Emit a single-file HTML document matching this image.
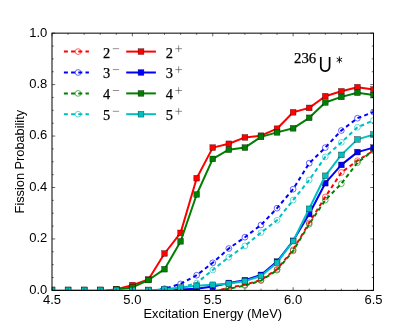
<!DOCTYPE html>
<html><head><meta charset="utf-8"><title>Fission Probability</title>
<style>html,body{margin:0;padding:0;background:#fff;}svg{display:block;will-change:transform;}text{font-family:"Liberation Sans",sans-serif;fill:#000;}.m{font-family:"Liberation Serif",serif;stroke:#000;stroke-width:0.25px;}</style></head><body>
<svg width="415" height="332" viewBox="0 0 415 332">
<rect x="0" y="0" width="415" height="332" fill="#ffffff"/>
<defs><clipPath id="ax"><rect x="52.00" y="33.15" width="321.50" height="257.25"/></clipPath></defs>
<g clip-path="url(#ax)">
<polyline points="52.00,291.60 68.07,291.60 84.15,291.60 100.22,291.60 116.30,291.60 132.38,291.60 148.45,291.60 164.53,291.60 180.60,291.60 196.68,291.60 212.75,291.60 228.82,287.70 244.90,284.80 260.97,280.00 277.05,269.30 293.12,249.80 309.20,222.80 325.28,197.00 341.35,172.50 357.43,160.70 373.50,150.70" fill="none" stroke="#ff0000" stroke-width="2.00" stroke-dasharray="4 3.2" stroke-dashoffset="3.6" stroke-linejoin="round"/>
<circle cx="52.00" cy="291.60" r="2.88" fill="none" stroke="#ff0000" stroke-width="0.60"/>
<circle cx="68.07" cy="291.60" r="2.88" fill="none" stroke="#ff0000" stroke-width="0.60"/>
<circle cx="84.15" cy="291.60" r="2.88" fill="none" stroke="#ff0000" stroke-width="0.60"/>
<circle cx="100.22" cy="291.60" r="2.88" fill="none" stroke="#ff0000" stroke-width="0.60"/>
<circle cx="116.30" cy="291.60" r="2.88" fill="none" stroke="#ff0000" stroke-width="0.60"/>
<circle cx="132.38" cy="291.60" r="2.88" fill="none" stroke="#ff0000" stroke-width="0.60"/>
<circle cx="148.45" cy="291.60" r="2.88" fill="none" stroke="#ff0000" stroke-width="0.60"/>
<circle cx="164.53" cy="291.60" r="2.88" fill="none" stroke="#ff0000" stroke-width="0.60"/>
<circle cx="180.60" cy="291.60" r="2.88" fill="none" stroke="#ff0000" stroke-width="0.60"/>
<circle cx="196.68" cy="291.60" r="2.88" fill="none" stroke="#ff0000" stroke-width="0.60"/>
<circle cx="212.75" cy="291.60" r="2.88" fill="none" stroke="#ff0000" stroke-width="0.60"/>
<circle cx="228.82" cy="287.70" r="2.88" fill="none" stroke="#ff0000" stroke-width="0.60"/>
<circle cx="244.90" cy="284.80" r="2.88" fill="none" stroke="#ff0000" stroke-width="0.60"/>
<circle cx="260.97" cy="280.00" r="2.88" fill="none" stroke="#ff0000" stroke-width="0.60"/>
<circle cx="277.05" cy="269.30" r="2.88" fill="none" stroke="#ff0000" stroke-width="0.60"/>
<circle cx="293.12" cy="249.80" r="2.88" fill="none" stroke="#ff0000" stroke-width="0.60"/>
<circle cx="309.20" cy="222.80" r="2.88" fill="none" stroke="#ff0000" stroke-width="0.60"/>
<circle cx="325.28" cy="197.00" r="2.88" fill="none" stroke="#ff0000" stroke-width="0.60"/>
<circle cx="341.35" cy="172.50" r="2.88" fill="none" stroke="#ff0000" stroke-width="0.60"/>
<circle cx="357.43" cy="160.70" r="2.88" fill="none" stroke="#ff0000" stroke-width="0.60"/>
<circle cx="373.50" cy="150.70" r="2.88" fill="none" stroke="#ff0000" stroke-width="0.60"/>
<polyline points="52.00,291.60 68.07,291.60 84.15,291.60 100.22,291.60 116.30,291.60 132.38,291.60 148.45,291.60 164.53,288.70 180.60,283.90 196.68,275.20 212.75,262.80 228.82,248.50 244.90,237.20 260.97,225.00 277.05,208.20 293.12,189.20 309.20,163.20 325.28,147.60 341.35,130.50 357.43,118.20 373.50,112.00" fill="none" stroke="#0000ff" stroke-width="2.00" stroke-dasharray="4 3.2" stroke-dashoffset="0.0" stroke-linejoin="round"/>
<circle cx="52.00" cy="291.60" r="2.88" fill="none" stroke="#0000ff" stroke-width="0.60"/>
<circle cx="68.07" cy="291.60" r="2.88" fill="none" stroke="#0000ff" stroke-width="0.60"/>
<circle cx="84.15" cy="291.60" r="2.88" fill="none" stroke="#0000ff" stroke-width="0.60"/>
<circle cx="100.22" cy="291.60" r="2.88" fill="none" stroke="#0000ff" stroke-width="0.60"/>
<circle cx="116.30" cy="291.60" r="2.88" fill="none" stroke="#0000ff" stroke-width="0.60"/>
<circle cx="132.38" cy="291.60" r="2.88" fill="none" stroke="#0000ff" stroke-width="0.60"/>
<circle cx="148.45" cy="291.60" r="2.88" fill="none" stroke="#0000ff" stroke-width="0.60"/>
<circle cx="164.53" cy="288.70" r="2.88" fill="none" stroke="#0000ff" stroke-width="0.60"/>
<circle cx="180.60" cy="283.90" r="2.88" fill="none" stroke="#0000ff" stroke-width="0.60"/>
<circle cx="196.68" cy="275.20" r="2.88" fill="none" stroke="#0000ff" stroke-width="0.60"/>
<circle cx="212.75" cy="262.80" r="2.88" fill="none" stroke="#0000ff" stroke-width="0.60"/>
<circle cx="228.82" cy="248.50" r="2.88" fill="none" stroke="#0000ff" stroke-width="0.60"/>
<circle cx="244.90" cy="237.20" r="2.88" fill="none" stroke="#0000ff" stroke-width="0.60"/>
<circle cx="260.97" cy="225.00" r="2.88" fill="none" stroke="#0000ff" stroke-width="0.60"/>
<circle cx="277.05" cy="208.20" r="2.88" fill="none" stroke="#0000ff" stroke-width="0.60"/>
<circle cx="293.12" cy="189.20" r="2.88" fill="none" stroke="#0000ff" stroke-width="0.60"/>
<circle cx="309.20" cy="163.20" r="2.88" fill="none" stroke="#0000ff" stroke-width="0.60"/>
<circle cx="325.28" cy="147.60" r="2.88" fill="none" stroke="#0000ff" stroke-width="0.60"/>
<circle cx="341.35" cy="130.50" r="2.88" fill="none" stroke="#0000ff" stroke-width="0.60"/>
<circle cx="357.43" cy="118.20" r="2.88" fill="none" stroke="#0000ff" stroke-width="0.60"/>
<circle cx="373.50" cy="112.00" r="2.88" fill="none" stroke="#0000ff" stroke-width="0.60"/>
<polyline points="52.00,291.60 68.07,291.60 84.15,291.60 100.22,291.60 116.30,291.60 132.38,291.60 148.45,291.60 164.53,291.60 180.60,291.60 196.68,291.60 212.75,291.60 228.82,288.70 244.90,285.60 260.97,280.60 277.05,270.20 293.12,250.90 309.20,224.20 325.28,200.10 341.35,183.70 357.43,162.70 373.50,150.20" fill="none" stroke="#008000" stroke-width="2.00" stroke-dasharray="4 3.2" stroke-dashoffset="0.0" stroke-linejoin="round"/>
<circle cx="52.00" cy="291.60" r="2.88" fill="none" stroke="#008000" stroke-width="0.60"/>
<circle cx="68.07" cy="291.60" r="2.88" fill="none" stroke="#008000" stroke-width="0.60"/>
<circle cx="84.15" cy="291.60" r="2.88" fill="none" stroke="#008000" stroke-width="0.60"/>
<circle cx="100.22" cy="291.60" r="2.88" fill="none" stroke="#008000" stroke-width="0.60"/>
<circle cx="116.30" cy="291.60" r="2.88" fill="none" stroke="#008000" stroke-width="0.60"/>
<circle cx="132.38" cy="291.60" r="2.88" fill="none" stroke="#008000" stroke-width="0.60"/>
<circle cx="148.45" cy="291.60" r="2.88" fill="none" stroke="#008000" stroke-width="0.60"/>
<circle cx="164.53" cy="291.60" r="2.88" fill="none" stroke="#008000" stroke-width="0.60"/>
<circle cx="180.60" cy="291.60" r="2.88" fill="none" stroke="#008000" stroke-width="0.60"/>
<circle cx="196.68" cy="291.60" r="2.88" fill="none" stroke="#008000" stroke-width="0.60"/>
<circle cx="212.75" cy="291.60" r="2.88" fill="none" stroke="#008000" stroke-width="0.60"/>
<circle cx="228.82" cy="288.70" r="2.88" fill="none" stroke="#008000" stroke-width="0.60"/>
<circle cx="244.90" cy="285.60" r="2.88" fill="none" stroke="#008000" stroke-width="0.60"/>
<circle cx="260.97" cy="280.60" r="2.88" fill="none" stroke="#008000" stroke-width="0.60"/>
<circle cx="277.05" cy="270.20" r="2.88" fill="none" stroke="#008000" stroke-width="0.60"/>
<circle cx="293.12" cy="250.90" r="2.88" fill="none" stroke="#008000" stroke-width="0.60"/>
<circle cx="309.20" cy="224.20" r="2.88" fill="none" stroke="#008000" stroke-width="0.60"/>
<circle cx="325.28" cy="200.10" r="2.88" fill="none" stroke="#008000" stroke-width="0.60"/>
<circle cx="341.35" cy="183.70" r="2.88" fill="none" stroke="#008000" stroke-width="0.60"/>
<circle cx="357.43" cy="162.70" r="2.88" fill="none" stroke="#008000" stroke-width="0.60"/>
<circle cx="373.50" cy="150.20" r="2.88" fill="none" stroke="#008000" stroke-width="0.60"/>
<polyline points="52.00,291.60 68.07,291.60 84.15,291.60 100.22,291.60 116.30,291.60 132.38,291.60 148.45,291.60 164.53,291.60 180.60,287.70 196.68,283.00 212.75,270.00 228.82,257.20 244.90,245.90 260.97,232.60 277.05,220.30 293.12,200.10 309.20,180.00 325.28,156.90 341.35,142.40 357.43,127.30 373.50,120.40" fill="none" stroke="#00bfbf" stroke-width="2.00" stroke-dasharray="4 3.2" stroke-dashoffset="0.0" stroke-linejoin="round"/>
<circle cx="52.00" cy="291.60" r="2.88" fill="none" stroke="#00bfbf" stroke-width="0.60"/>
<circle cx="68.07" cy="291.60" r="2.88" fill="none" stroke="#00bfbf" stroke-width="0.60"/>
<circle cx="84.15" cy="291.60" r="2.88" fill="none" stroke="#00bfbf" stroke-width="0.60"/>
<circle cx="100.22" cy="291.60" r="2.88" fill="none" stroke="#00bfbf" stroke-width="0.60"/>
<circle cx="116.30" cy="291.60" r="2.88" fill="none" stroke="#00bfbf" stroke-width="0.60"/>
<circle cx="132.38" cy="291.60" r="2.88" fill="none" stroke="#00bfbf" stroke-width="0.60"/>
<circle cx="148.45" cy="291.60" r="2.88" fill="none" stroke="#00bfbf" stroke-width="0.60"/>
<circle cx="164.53" cy="291.60" r="2.88" fill="none" stroke="#00bfbf" stroke-width="0.60"/>
<circle cx="180.60" cy="287.70" r="2.88" fill="none" stroke="#00bfbf" stroke-width="0.60"/>
<circle cx="196.68" cy="283.00" r="2.88" fill="none" stroke="#00bfbf" stroke-width="0.60"/>
<circle cx="212.75" cy="270.00" r="2.88" fill="none" stroke="#00bfbf" stroke-width="0.60"/>
<circle cx="228.82" cy="257.20" r="2.88" fill="none" stroke="#00bfbf" stroke-width="0.60"/>
<circle cx="244.90" cy="245.90" r="2.88" fill="none" stroke="#00bfbf" stroke-width="0.60"/>
<circle cx="260.97" cy="232.60" r="2.88" fill="none" stroke="#00bfbf" stroke-width="0.60"/>
<circle cx="277.05" cy="220.30" r="2.88" fill="none" stroke="#00bfbf" stroke-width="0.60"/>
<circle cx="293.12" cy="200.10" r="2.88" fill="none" stroke="#00bfbf" stroke-width="0.60"/>
<circle cx="309.20" cy="180.00" r="2.88" fill="none" stroke="#00bfbf" stroke-width="0.60"/>
<circle cx="325.28" cy="156.90" r="2.88" fill="none" stroke="#00bfbf" stroke-width="0.60"/>
<circle cx="341.35" cy="142.40" r="2.88" fill="none" stroke="#00bfbf" stroke-width="0.60"/>
<circle cx="357.43" cy="127.30" r="2.88" fill="none" stroke="#00bfbf" stroke-width="0.60"/>
<circle cx="373.50" cy="120.40" r="2.88" fill="none" stroke="#00bfbf" stroke-width="0.60"/>
<polyline points="52.00,291.60 68.07,291.60 84.15,291.60 100.22,291.60 116.30,289.20 132.38,285.10 148.45,279.50 164.53,253.50 180.60,232.90 196.68,178.20 212.75,147.60 228.82,143.80 244.90,137.40 260.97,135.70 277.05,128.70 293.12,112.30 309.20,107.90 325.28,96.20 341.35,91.30 357.43,87.20 373.50,89.50" fill="none" stroke="#ff0000" stroke-width="2.00" stroke-linejoin="round"/>
<rect x="49.12" y="287.12" width="5.76" height="5.76" fill="#ff0000" stroke="#000" stroke-opacity="0.7" stroke-width="0.45"/>
<rect x="65.19" y="287.12" width="5.76" height="5.76" fill="#ff0000" stroke="#000" stroke-opacity="0.7" stroke-width="0.45"/>
<rect x="81.27" y="287.12" width="5.76" height="5.76" fill="#ff0000" stroke="#000" stroke-opacity="0.7" stroke-width="0.45"/>
<rect x="97.34" y="287.12" width="5.76" height="5.76" fill="#ff0000" stroke="#000" stroke-opacity="0.7" stroke-width="0.45"/>
<rect x="113.42" y="286.32" width="5.76" height="5.76" fill="#ff0000" stroke="#000" stroke-opacity="0.7" stroke-width="0.45"/>
<rect x="129.50" y="282.22" width="5.76" height="5.76" fill="#ff0000" stroke="#000" stroke-opacity="0.7" stroke-width="0.45"/>
<rect x="145.57" y="276.62" width="5.76" height="5.76" fill="#ff0000" stroke="#000" stroke-opacity="0.7" stroke-width="0.45"/>
<rect x="161.65" y="250.62" width="5.76" height="5.76" fill="#ff0000" stroke="#000" stroke-opacity="0.7" stroke-width="0.45"/>
<rect x="177.72" y="230.02" width="5.76" height="5.76" fill="#ff0000" stroke="#000" stroke-opacity="0.7" stroke-width="0.45"/>
<rect x="193.80" y="175.32" width="5.76" height="5.76" fill="#ff0000" stroke="#000" stroke-opacity="0.7" stroke-width="0.45"/>
<rect x="209.87" y="144.72" width="5.76" height="5.76" fill="#ff0000" stroke="#000" stroke-opacity="0.7" stroke-width="0.45"/>
<rect x="225.94" y="140.92" width="5.76" height="5.76" fill="#ff0000" stroke="#000" stroke-opacity="0.7" stroke-width="0.45"/>
<rect x="242.02" y="134.52" width="5.76" height="5.76" fill="#ff0000" stroke="#000" stroke-opacity="0.7" stroke-width="0.45"/>
<rect x="258.09" y="132.82" width="5.76" height="5.76" fill="#ff0000" stroke="#000" stroke-opacity="0.7" stroke-width="0.45"/>
<rect x="274.17" y="125.82" width="5.76" height="5.76" fill="#ff0000" stroke="#000" stroke-opacity="0.7" stroke-width="0.45"/>
<rect x="290.25" y="109.42" width="5.76" height="5.76" fill="#ff0000" stroke="#000" stroke-opacity="0.7" stroke-width="0.45"/>
<rect x="306.32" y="105.02" width="5.76" height="5.76" fill="#ff0000" stroke="#000" stroke-opacity="0.7" stroke-width="0.45"/>
<rect x="322.40" y="93.32" width="5.76" height="5.76" fill="#ff0000" stroke="#000" stroke-opacity="0.7" stroke-width="0.45"/>
<rect x="338.47" y="88.42" width="5.76" height="5.76" fill="#ff0000" stroke="#000" stroke-opacity="0.7" stroke-width="0.45"/>
<rect x="354.55" y="84.32" width="5.76" height="5.76" fill="#ff0000" stroke="#000" stroke-opacity="0.7" stroke-width="0.45"/>
<rect x="370.62" y="86.62" width="5.76" height="5.76" fill="#ff0000" stroke="#000" stroke-opacity="0.7" stroke-width="0.45"/>
<polyline points="52.00,291.60 68.07,291.60 84.15,291.60 100.22,291.60 116.30,291.60 132.38,291.60 148.45,291.60 164.53,291.60 180.60,289.50 196.68,288.70 212.75,286.60 228.82,283.00 244.90,280.20 260.97,274.90 277.05,261.60 293.12,240.80 309.20,214.00 325.28,183.20 341.35,164.90 357.43,152.10 373.50,147.60" fill="none" stroke="#0000ff" stroke-width="2.00" stroke-linejoin="round"/>
<rect x="49.12" y="287.12" width="5.76" height="5.76" fill="#0000ff" stroke="#000" stroke-opacity="0.7" stroke-width="0.45"/>
<rect x="65.19" y="287.12" width="5.76" height="5.76" fill="#0000ff" stroke="#000" stroke-opacity="0.7" stroke-width="0.45"/>
<rect x="81.27" y="287.12" width="5.76" height="5.76" fill="#0000ff" stroke="#000" stroke-opacity="0.7" stroke-width="0.45"/>
<rect x="97.34" y="287.12" width="5.76" height="5.76" fill="#0000ff" stroke="#000" stroke-opacity="0.7" stroke-width="0.45"/>
<rect x="113.42" y="287.12" width="5.76" height="5.76" fill="#0000ff" stroke="#000" stroke-opacity="0.7" stroke-width="0.45"/>
<rect x="129.50" y="287.12" width="5.76" height="5.76" fill="#0000ff" stroke="#000" stroke-opacity="0.7" stroke-width="0.45"/>
<rect x="145.57" y="287.12" width="5.76" height="5.76" fill="#0000ff" stroke="#000" stroke-opacity="0.7" stroke-width="0.45"/>
<rect x="161.65" y="287.12" width="5.76" height="5.76" fill="#0000ff" stroke="#000" stroke-opacity="0.7" stroke-width="0.45"/>
<rect x="177.72" y="286.62" width="5.76" height="5.76" fill="#0000ff" stroke="#000" stroke-opacity="0.7" stroke-width="0.45"/>
<rect x="193.80" y="285.82" width="5.76" height="5.76" fill="#0000ff" stroke="#000" stroke-opacity="0.7" stroke-width="0.45"/>
<rect x="209.87" y="283.72" width="5.76" height="5.76" fill="#0000ff" stroke="#000" stroke-opacity="0.7" stroke-width="0.45"/>
<rect x="225.94" y="280.12" width="5.76" height="5.76" fill="#0000ff" stroke="#000" stroke-opacity="0.7" stroke-width="0.45"/>
<rect x="242.02" y="277.32" width="5.76" height="5.76" fill="#0000ff" stroke="#000" stroke-opacity="0.7" stroke-width="0.45"/>
<rect x="258.09" y="272.02" width="5.76" height="5.76" fill="#0000ff" stroke="#000" stroke-opacity="0.7" stroke-width="0.45"/>
<rect x="274.17" y="258.72" width="5.76" height="5.76" fill="#0000ff" stroke="#000" stroke-opacity="0.7" stroke-width="0.45"/>
<rect x="290.25" y="237.92" width="5.76" height="5.76" fill="#0000ff" stroke="#000" stroke-opacity="0.7" stroke-width="0.45"/>
<rect x="306.32" y="211.12" width="5.76" height="5.76" fill="#0000ff" stroke="#000" stroke-opacity="0.7" stroke-width="0.45"/>
<rect x="322.40" y="180.32" width="5.76" height="5.76" fill="#0000ff" stroke="#000" stroke-opacity="0.7" stroke-width="0.45"/>
<rect x="338.47" y="162.02" width="5.76" height="5.76" fill="#0000ff" stroke="#000" stroke-opacity="0.7" stroke-width="0.45"/>
<rect x="354.55" y="149.22" width="5.76" height="5.76" fill="#0000ff" stroke="#000" stroke-opacity="0.7" stroke-width="0.45"/>
<rect x="370.62" y="144.72" width="5.76" height="5.76" fill="#0000ff" stroke="#000" stroke-opacity="0.7" stroke-width="0.45"/>
<polyline points="52.00,291.60 68.07,291.60 84.15,291.60 100.22,291.60 116.30,289.40 132.38,287.40 148.45,280.00 164.53,269.20 180.60,241.40 196.68,194.50 212.75,158.90 228.82,149.70 244.90,147.60 260.97,136.90 277.05,132.40 293.12,128.30 309.20,117.80 325.28,102.50 341.35,96.90 357.43,92.70 373.50,95.10" fill="none" stroke="#008000" stroke-width="2.00" stroke-linejoin="round"/>
<rect x="49.12" y="287.12" width="5.76" height="5.76" fill="#008000" stroke="#000" stroke-opacity="0.7" stroke-width="0.45"/>
<rect x="65.19" y="287.12" width="5.76" height="5.76" fill="#008000" stroke="#000" stroke-opacity="0.7" stroke-width="0.45"/>
<rect x="81.27" y="287.12" width="5.76" height="5.76" fill="#008000" stroke="#000" stroke-opacity="0.7" stroke-width="0.45"/>
<rect x="97.34" y="287.12" width="5.76" height="5.76" fill="#008000" stroke="#000" stroke-opacity="0.7" stroke-width="0.45"/>
<rect x="113.42" y="286.52" width="5.76" height="5.76" fill="#008000" stroke="#000" stroke-opacity="0.7" stroke-width="0.45"/>
<rect x="129.50" y="284.52" width="5.76" height="5.76" fill="#008000" stroke="#000" stroke-opacity="0.7" stroke-width="0.45"/>
<rect x="145.57" y="277.12" width="5.76" height="5.76" fill="#008000" stroke="#000" stroke-opacity="0.7" stroke-width="0.45"/>
<rect x="161.65" y="266.32" width="5.76" height="5.76" fill="#008000" stroke="#000" stroke-opacity="0.7" stroke-width="0.45"/>
<rect x="177.72" y="238.52" width="5.76" height="5.76" fill="#008000" stroke="#000" stroke-opacity="0.7" stroke-width="0.45"/>
<rect x="193.80" y="191.62" width="5.76" height="5.76" fill="#008000" stroke="#000" stroke-opacity="0.7" stroke-width="0.45"/>
<rect x="209.87" y="156.02" width="5.76" height="5.76" fill="#008000" stroke="#000" stroke-opacity="0.7" stroke-width="0.45"/>
<rect x="225.94" y="146.82" width="5.76" height="5.76" fill="#008000" stroke="#000" stroke-opacity="0.7" stroke-width="0.45"/>
<rect x="242.02" y="144.72" width="5.76" height="5.76" fill="#008000" stroke="#000" stroke-opacity="0.7" stroke-width="0.45"/>
<rect x="258.09" y="134.02" width="5.76" height="5.76" fill="#008000" stroke="#000" stroke-opacity="0.7" stroke-width="0.45"/>
<rect x="274.17" y="129.52" width="5.76" height="5.76" fill="#008000" stroke="#000" stroke-opacity="0.7" stroke-width="0.45"/>
<rect x="290.25" y="125.42" width="5.76" height="5.76" fill="#008000" stroke="#000" stroke-opacity="0.7" stroke-width="0.45"/>
<rect x="306.32" y="114.92" width="5.76" height="5.76" fill="#008000" stroke="#000" stroke-opacity="0.7" stroke-width="0.45"/>
<rect x="322.40" y="99.62" width="5.76" height="5.76" fill="#008000" stroke="#000" stroke-opacity="0.7" stroke-width="0.45"/>
<rect x="338.47" y="94.02" width="5.76" height="5.76" fill="#008000" stroke="#000" stroke-opacity="0.7" stroke-width="0.45"/>
<rect x="354.55" y="89.82" width="5.76" height="5.76" fill="#008000" stroke="#000" stroke-opacity="0.7" stroke-width="0.45"/>
<rect x="370.62" y="92.22" width="5.76" height="5.76" fill="#008000" stroke="#000" stroke-opacity="0.7" stroke-width="0.45"/>
<polyline points="52.00,290.50 68.07,290.50 84.15,290.50 100.22,290.50 116.30,290.50 132.38,290.50 148.45,290.50 164.53,289.20 180.60,287.60 196.68,285.80 212.75,284.80 228.82,283.70 244.90,281.10 260.97,276.00 277.05,262.70 293.12,241.10 309.20,208.80 325.28,175.80 341.35,154.90 357.43,139.40 373.50,134.60" fill="none" stroke="#00bfbf" stroke-width="2.00" stroke-linejoin="round"/>
<rect x="49.12" y="287.12" width="5.76" height="5.76" fill="#00bfbf" stroke="#000" stroke-opacity="0.7" stroke-width="0.45"/>
<rect x="65.19" y="287.12" width="5.76" height="5.76" fill="#00bfbf" stroke="#000" stroke-opacity="0.7" stroke-width="0.45"/>
<rect x="81.27" y="287.12" width="5.76" height="5.76" fill="#00bfbf" stroke="#000" stroke-opacity="0.7" stroke-width="0.45"/>
<rect x="97.34" y="287.12" width="5.76" height="5.76" fill="#00bfbf" stroke="#000" stroke-opacity="0.7" stroke-width="0.45"/>
<rect x="113.42" y="287.12" width="5.76" height="5.76" fill="#00bfbf" stroke="#000" stroke-opacity="0.7" stroke-width="0.45"/>
<rect x="129.50" y="287.12" width="5.76" height="5.76" fill="#00bfbf" stroke="#000" stroke-opacity="0.7" stroke-width="0.45"/>
<rect x="145.57" y="287.12" width="5.76" height="5.76" fill="#00bfbf" stroke="#000" stroke-opacity="0.7" stroke-width="0.45"/>
<rect x="161.65" y="286.32" width="5.76" height="5.76" fill="#00bfbf" stroke="#000" stroke-opacity="0.7" stroke-width="0.45"/>
<rect x="177.72" y="284.72" width="5.76" height="5.76" fill="#00bfbf" stroke="#000" stroke-opacity="0.7" stroke-width="0.45"/>
<rect x="193.80" y="282.92" width="5.76" height="5.76" fill="#00bfbf" stroke="#000" stroke-opacity="0.7" stroke-width="0.45"/>
<rect x="209.87" y="281.92" width="5.76" height="5.76" fill="#00bfbf" stroke="#000" stroke-opacity="0.7" stroke-width="0.45"/>
<rect x="225.94" y="280.82" width="5.76" height="5.76" fill="#00bfbf" stroke="#000" stroke-opacity="0.7" stroke-width="0.45"/>
<rect x="242.02" y="278.22" width="5.76" height="5.76" fill="#00bfbf" stroke="#000" stroke-opacity="0.7" stroke-width="0.45"/>
<rect x="258.09" y="273.12" width="5.76" height="5.76" fill="#00bfbf" stroke="#000" stroke-opacity="0.7" stroke-width="0.45"/>
<rect x="274.17" y="259.82" width="5.76" height="5.76" fill="#00bfbf" stroke="#000" stroke-opacity="0.7" stroke-width="0.45"/>
<rect x="290.25" y="238.22" width="5.76" height="5.76" fill="#00bfbf" stroke="#000" stroke-opacity="0.7" stroke-width="0.45"/>
<rect x="306.32" y="205.92" width="5.76" height="5.76" fill="#00bfbf" stroke="#000" stroke-opacity="0.7" stroke-width="0.45"/>
<rect x="322.40" y="172.92" width="5.76" height="5.76" fill="#00bfbf" stroke="#000" stroke-opacity="0.7" stroke-width="0.45"/>
<rect x="338.47" y="152.02" width="5.76" height="5.76" fill="#00bfbf" stroke="#000" stroke-opacity="0.7" stroke-width="0.45"/>
<rect x="354.55" y="136.52" width="5.76" height="5.76" fill="#00bfbf" stroke="#000" stroke-opacity="0.7" stroke-width="0.45"/>
<rect x="370.62" y="131.72" width="5.76" height="5.76" fill="#00bfbf" stroke="#000" stroke-opacity="0.7" stroke-width="0.45"/>
</g>
<rect x="52.00" y="33.15" width="321.50" height="257.25" fill="none" stroke="#000" stroke-width="1"/>
<path d="M52.00 290.40v-3.20M52.00 33.15v3.20M68.07 290.40v-1.70M68.07 33.15v1.70M84.15 290.40v-1.70M84.15 33.15v1.70M100.22 290.40v-1.70M100.22 33.15v1.70M116.30 290.40v-1.70M116.30 33.15v1.70M132.38 290.40v-3.20M132.38 33.15v3.20M148.45 290.40v-1.70M148.45 33.15v1.70M164.53 290.40v-1.70M164.53 33.15v1.70M180.60 290.40v-1.70M180.60 33.15v1.70M196.68 290.40v-1.70M196.68 33.15v1.70M212.75 290.40v-3.20M212.75 33.15v3.20M228.82 290.40v-1.70M228.82 33.15v1.70M244.90 290.40v-1.70M244.90 33.15v1.70M260.97 290.40v-1.70M260.97 33.15v1.70M277.05 290.40v-1.70M277.05 33.15v1.70M293.12 290.40v-3.20M293.12 33.15v3.20M309.20 290.40v-1.70M309.20 33.15v1.70M325.28 290.40v-1.70M325.28 33.15v1.70M341.35 290.40v-1.70M341.35 33.15v1.70M357.43 290.40v-1.70M357.43 33.15v1.70M373.50 290.40v-3.20M373.50 33.15v3.20M52.00 290.40h3.20M373.50 290.40h-3.20M52.00 277.54h1.70M373.50 277.54h-1.70M52.00 264.67h1.70M373.50 264.67h-1.70M52.00 251.81h1.70M373.50 251.81h-1.70M52.00 238.95h3.20M373.50 238.95h-3.20M52.00 226.09h1.70M373.50 226.09h-1.70M52.00 213.22h1.70M373.50 213.22h-1.70M52.00 200.36h1.70M373.50 200.36h-1.70M52.00 187.50h3.20M373.50 187.50h-3.20M52.00 174.64h1.70M373.50 174.64h-1.70M52.00 161.77h1.70M373.50 161.77h-1.70M52.00 148.91h1.70M373.50 148.91h-1.70M52.00 136.05h3.20M373.50 136.05h-3.20M52.00 123.19h1.70M373.50 123.19h-1.70M52.00 110.32h1.70M373.50 110.32h-1.70M52.00 97.46h1.70M373.50 97.46h-1.70M52.00 84.60h3.20M373.50 84.60h-3.20M52.00 71.74h1.70M373.50 71.74h-1.70M52.00 58.87h1.70M373.50 58.87h-1.70M52.00 46.01h1.70M373.50 46.01h-1.70M52.00 33.15h3.20M373.50 33.15h-3.20" stroke="#000" stroke-width="0.6" fill="none"/>
<text x="52.00" y="304" font-size="12.5" text-anchor="middle" textLength="18.1" lengthAdjust="spacingAndGlyphs">4.5</text>
<text x="132.38" y="304" font-size="12.5" text-anchor="middle" textLength="18.1" lengthAdjust="spacingAndGlyphs">5.0</text>
<text x="212.75" y="304" font-size="12.5" text-anchor="middle" textLength="18.1" lengthAdjust="spacingAndGlyphs">5.5</text>
<text x="293.12" y="304" font-size="12.5" text-anchor="middle" textLength="18.1" lengthAdjust="spacingAndGlyphs">6.0</text>
<text x="373.50" y="304" font-size="12.5" text-anchor="middle" textLength="18.1" lengthAdjust="spacingAndGlyphs">6.5</text>
<text x="47.3" y="293.80" font-size="12.5" text-anchor="end" textLength="18.1" lengthAdjust="spacingAndGlyphs">0.0</text>
<text x="47.3" y="242.35" font-size="12.5" text-anchor="end" textLength="18.1" lengthAdjust="spacingAndGlyphs">0.2</text>
<text x="47.3" y="190.90" font-size="12.5" text-anchor="end" textLength="18.1" lengthAdjust="spacingAndGlyphs">0.4</text>
<text x="47.3" y="139.45" font-size="12.5" text-anchor="end" textLength="18.1" lengthAdjust="spacingAndGlyphs">0.6</text>
<text x="47.3" y="88.00" font-size="12.5" text-anchor="end" textLength="18.1" lengthAdjust="spacingAndGlyphs">0.8</text>
<text x="47.3" y="36.55" font-size="12.5" text-anchor="end" textLength="18.1" lengthAdjust="spacingAndGlyphs">1.0</text>
<text x="212.75" y="317.9" font-size="12.1" text-anchor="middle" textLength="138.5" lengthAdjust="spacingAndGlyphs">Excitation Energy (MeV)</text>
<text transform="translate(23.7,161.65) rotate(-90)" font-size="12.1" text-anchor="middle" textLength="103.5" lengthAdjust="spacingAndGlyphs">Fission Probability</text>
<line x1="63.9" y1="51.60" x2="88.9" y2="51.60" stroke="#ff0000" stroke-width="2.00" stroke-dasharray="4 3.2"/>
<circle cx="78.1" cy="51.60" r="2.88" fill="none" stroke="#ff0000" stroke-width="0.60"/>
<text class="m" x="103" y="57.50" font-size="14.4">2</text>
<path d="M112.8 48.70h6.3" stroke="#000" stroke-opacity="0.8" stroke-width="0.55"/>
<line x1="126.2" y1="51.60" x2="155.9" y2="51.60" stroke="#ff0000" stroke-width="2.00"/>
<rect x="138.12" y="48.72" width="5.76" height="5.76" fill="#ff0000" stroke="#000" stroke-opacity="0.7" stroke-width="0.45"/>
<text class="m" x="165.8" y="57.50" font-size="14.4">2</text>
<path d="M175.3 48.70h6.7M178.65 45.40v6.6" stroke="#000" stroke-opacity="0.8" stroke-width="0.55"/>
<line x1="63.9" y1="72.50" x2="88.9" y2="72.50" stroke="#0000ff" stroke-width="2.00" stroke-dasharray="4 3.2"/>
<circle cx="78.1" cy="72.50" r="2.88" fill="none" stroke="#0000ff" stroke-width="0.60"/>
<text class="m" x="103" y="78.40" font-size="14.4">3</text>
<path d="M112.8 69.60h6.3" stroke="#000" stroke-opacity="0.8" stroke-width="0.55"/>
<line x1="126.2" y1="72.50" x2="155.9" y2="72.50" stroke="#0000ff" stroke-width="2.00"/>
<rect x="138.12" y="69.62" width="5.76" height="5.76" fill="#0000ff" stroke="#000" stroke-opacity="0.7" stroke-width="0.45"/>
<text class="m" x="165.8" y="78.40" font-size="14.4">3</text>
<path d="M175.3 69.60h6.7M178.65 66.30v6.6" stroke="#000" stroke-opacity="0.8" stroke-width="0.55"/>
<line x1="63.9" y1="93.40" x2="88.9" y2="93.40" stroke="#008000" stroke-width="2.00" stroke-dasharray="4 3.2"/>
<circle cx="78.1" cy="93.40" r="2.88" fill="none" stroke="#008000" stroke-width="0.60"/>
<text class="m" x="103" y="99.30" font-size="14.4">4</text>
<path d="M112.8 90.50h6.3" stroke="#000" stroke-opacity="0.8" stroke-width="0.55"/>
<line x1="126.2" y1="93.40" x2="155.9" y2="93.40" stroke="#008000" stroke-width="2.00"/>
<rect x="138.12" y="90.52" width="5.76" height="5.76" fill="#008000" stroke="#000" stroke-opacity="0.7" stroke-width="0.45"/>
<text class="m" x="165.8" y="99.30" font-size="14.4">4</text>
<path d="M175.3 90.50h6.7M178.65 87.20v6.6" stroke="#000" stroke-opacity="0.8" stroke-width="0.55"/>
<line x1="63.9" y1="114.20" x2="88.9" y2="114.20" stroke="#00bfbf" stroke-width="2.00" stroke-dasharray="4 3.2"/>
<circle cx="78.1" cy="114.20" r="2.88" fill="none" stroke="#00bfbf" stroke-width="0.60"/>
<text class="m" x="103" y="120.10" font-size="14.4">5</text>
<path d="M112.8 111.30h6.3" stroke="#000" stroke-opacity="0.8" stroke-width="0.55"/>
<line x1="126.2" y1="114.20" x2="155.9" y2="114.20" stroke="#00bfbf" stroke-width="2.00"/>
<rect x="138.12" y="111.32" width="5.76" height="5.76" fill="#00bfbf" stroke="#000" stroke-opacity="0.7" stroke-width="0.45"/>
<text class="m" x="165.8" y="120.10" font-size="14.4">5</text>
<path d="M175.3 111.30h6.7M178.65 108.00v6.6" stroke="#000" stroke-opacity="0.8" stroke-width="0.55"/>
<text class="m" x="294" y="63.4" font-size="14.8">236</text>
<text x="318.4" y="71.9" font-size="22.2" textLength="13.4" lengthAdjust="spacingAndGlyphs">U</text>
<path d="M339.4 56.8V62.8M337 58.3L341.8 61.3M341.8 58.3L337 61.3" stroke="#000" stroke-width="0.9" stroke-linecap="round" fill="none"/>
</svg></body></html>
